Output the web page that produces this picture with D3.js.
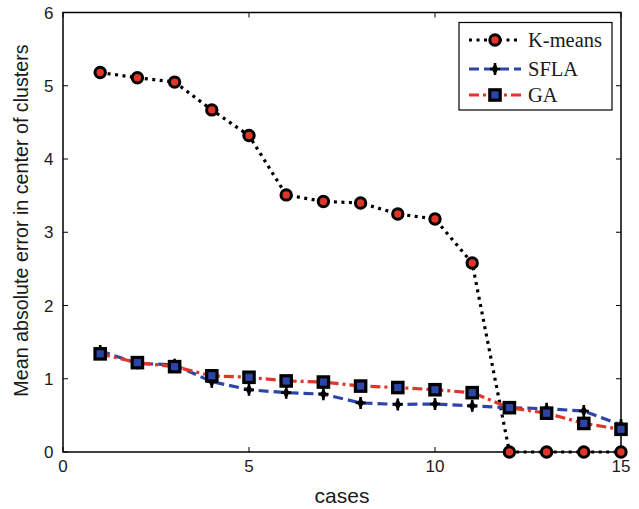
<!DOCTYPE html>
<html>
<head>
<meta charset="utf-8">
<script src="https://cdn.jsdelivr.net/npm/d3@7"></script>
<style>
  html, body { margin: 0; padding: 0; background: #fff; }
  svg { display: block; }
</style>
</head>
<body>
<svg id="chart" width="639" height="509"></svg>
<script>
// Cases on the x axis
const cases = [1, 2, 3, 4, 5, 6, 7, 8, 9, 10, 11, 12, 13, 14, 15];

// Mean absolute error per method
const kmeans = [5.18, 5.11, 5.05, 4.67, 4.32, 3.51, 3.42, 3.40, 3.25, 3.18, 2.58, 0, 0, 0, 0];
const sfla   = [1.38, 1.21, 1.19, 0.96, 0.85, 0.81, 0.79, 0.67, 0.65, 0.655, 0.63, 0.605, 0.59, 0.56, 0.37];
const ga     = [1.34, 1.22, 1.165, 1.04, 1.02, 0.97, 0.955, 0.90, 0.88, 0.85, 0.81, 0.605, 0.53, 0.39, 0.31];

const xTicks = [0, 5, 10, 15];
const yTicks = [0, 1, 2, 3, 4, 5, 6];

const seriesNames = ["K-means", "SFLA", "GA"];

const BLUE = "#2d45a9";
const RED = "#e0362a";

const svg = d3.select("#chart");
const L = 63, R = 621, T = 12.5, B = 452;

const x = d3.scaleLinear().domain([0, 15]).range([L, R]);
const y = d3.scaleLinear().domain([0, 6]).range([B, T]);

const tickFont = "'Liberation Sans', Arial, Helvetica, sans-serif";

// Ticks drawn inward on all four sides, box frame
const g = svg.append("g");
const tickLen = 5;
xTicks.forEach(t => {
  g.append("line").attr("x1", x(t)).attr("x2", x(t)).attr("y1", B).attr("y2", B - tickLen)
    .attr("stroke", "#000").attr("stroke-width", 1);
  g.append("line").attr("x1", x(t)).attr("x2", x(t)).attr("y1", T).attr("y2", T + tickLen)
    .attr("stroke", "#000").attr("stroke-width", 1);
  g.append("text").attr("x", x(t)).attr("y", B + 20).attr("text-anchor", "middle")
    .attr("font-family", tickFont).attr("font-size", 17).attr("fill", "#1a1a1a").text(t);
});
yTicks.forEach(t => {
  g.append("line").attr("x1", L).attr("x2", L + tickLen).attr("y1", y(t)).attr("y2", y(t))
    .attr("stroke", "#000").attr("stroke-width", 1);
  g.append("line").attr("x1", R).attr("x2", R - tickLen).attr("y1", y(t)).attr("y2", y(t))
    .attr("stroke", "#000").attr("stroke-width", 1);
  g.append("text").attr("x", L - 9.5).attr("y", y(t) + 6).attr("text-anchor", "end")
    .attr("font-family", tickFont).attr("font-size", 17).attr("fill", "#1a1a1a").text(t);
});
g.append("rect").attr("x", L).attr("y", T).attr("width", R - L).attr("height", B - T)
  .attr("fill", "none").attr("stroke", "#000").attr("stroke-width", 1.5);

// Axis titles
svg.append("text").attr("x", (L + R) / 2).attr("y", 502.5).attr("text-anchor", "middle")
  .attr("font-family", tickFont).attr("font-size", 21).attr("fill", "#1a1a1a").text("cases");
svg.append("text").attr("transform", "translate(27.5,220.5) rotate(-90)")
  .attr("text-anchor", "middle")
  .attr("font-family", tickFont).attr("font-size", 19.7).attr("fill", "#1a1a1a")
  .text("Mean absolute error in center of clusters");

const line = d3.line().x(d => x(d[0])).y(d => y(d[1]));

const styles = {
  "K-means": { color: "#000", dash: "3,4.5" },
  "SFLA": { color: BLUE, dash: "10,5" },
  "GA": { color: RED, dash: "10,4,3,4" }
};

function drawMarker(sel, name, cx, cy) {
  if (name === "K-means") {
    sel.append("circle").attr("cx", cx).attr("cy", cy).attr("r", 5.2)
      .attr("fill", RED).attr("stroke", "#000").attr("stroke-width", 3);
  } else if (name === "SFLA") {
    sel.append("path").attr("transform", `translate(${cx},${cy})`)
      .attr("d", d3.symbol().type(d3.symbolDiamond).size(40)())
      .attr("fill", "#000");
    sel.append("path").attr("transform", `translate(${cx},${cy})`)
      .attr("d", "M-5,0H5M0,-6V6").attr("stroke", "#000").attr("stroke-width", 2.6);
  } else {
    sel.append("rect").attr("x", cx - 5.2).attr("y", cy - 5.2).attr("width", 10.4).attr("height", 10.4)
      .attr("fill", BLUE).attr("stroke", "#000").attr("stroke-width", 3.2);
  }
}

const data = { "K-means": kmeans, "SFLA": sfla, "GA": ga };

seriesNames.forEach(name => {
  const pts = cases.map((c, i) => [c, data[name][i]]);
  const sg = svg.append("g");
  sg.append("path").attr("d", line(pts)).attr("fill", "none")
    .attr("stroke", styles[name].color).attr("stroke-width", 3.2)
    .attr("stroke-dasharray", styles[name].dash);
  pts.forEach(p => drawMarker(sg, name, x(p[0]), y(p[1])));
});

// Legend
const lg = svg.append("g");
lg.append("rect").attr("x", 459).attr("y", 22.5).attr("width", 153).attr("height", 87.5)
  .attr("fill", "#fff").attr("stroke", "#000").attr("stroke-width", 1.2);
const legendY = [40, 69, 95];
seriesNames.forEach((name, i) => {
  const ly = legendY[i];
  lg.append("line").attr("x1", 469).attr("x2", 521).attr("y1", ly).attr("y2", ly)
    .attr("stroke", styles[name].color).attr("stroke-width", 3.2)
    .attr("stroke-dasharray", styles[name].dash);
  drawMarker(lg, name, 495, ly);
  lg.append("text").attr("x", 528).attr("y", ly + 7)
    .attr("font-family", "'Liberation Serif', 'Times New Roman', serif")
    .attr("font-size", 20.5).attr("fill", "#1a1a1a").text(name);
});
</script>
</body>
</html>
